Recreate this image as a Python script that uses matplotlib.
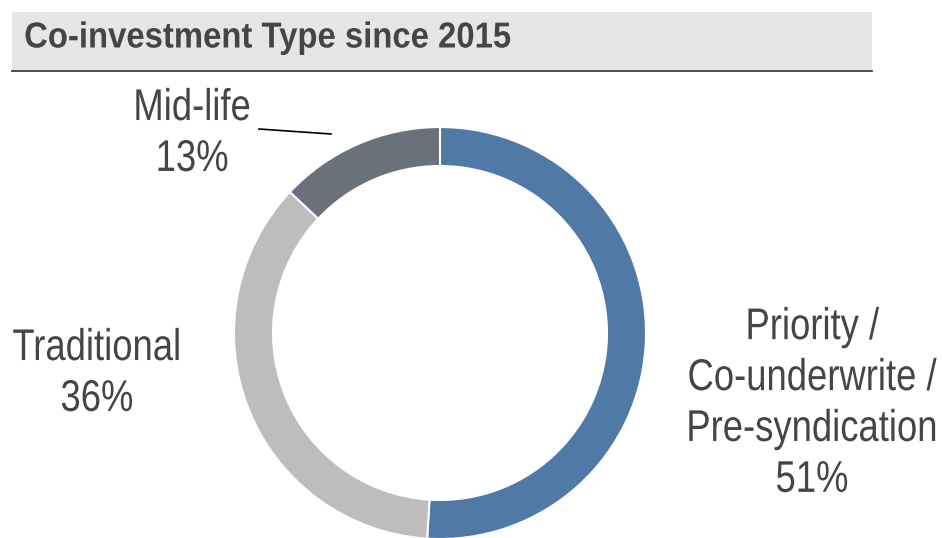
import matplotlib
matplotlib.use("Agg")
import matplotlib.pyplot as plt
from matplotlib.patches import Rectangle
from matplotlib.patheffects import AbstractPathEffect
from matplotlib.transforms import Affine2D

title = "Co-investment Type since 2015"
categories = ["Priority /\nCo-underwrite /\nPre-syndication", "Traditional", "Mid-life"]
values = [51, 36, 13]
colors = ["#5079a5", "#bdbdbd", "#6a717b"]

FONT = ["Liberation Sans", "DejaVu Sans"]
TXT = "#454545"


class Narrow(AbstractPathEffect):
    """Horizontally condense glyphs (Arial Narrow look) around a line anchor."""
    def __init__(self, sx=0.82, anchor="center"):
        super().__init__()
        self.sx = sx
        self.anchor = anchor

    def draw_path(self, renderer, gc, tpath, affine, rgbFace=None):
        ext = tpath.get_extents(affine)
        cx = ext.x0 if self.anchor == "left" else 0.5 * (ext.x0 + ext.x1)
        t = affine + Affine2D().translate(-cx, 0).scale(self.sx, 1).translate(cx, 0)
        renderer.draw_path(gc, tpath, t, rgbFace)


W, H = 942, 538
fig = plt.figure(figsize=(W / 100, H / 100), dpi=100)
ax = fig.add_axes([0, 0, 1, 1])


def Y(y):
    return H - y


# donut
ax.pie(values, colors=colors, startangle=90, counterclock=False,
       center=(440, Y(333)), radius=206, frame=True,
       wedgeprops=dict(width=39, edgecolor="white", linewidth=1.5))
ax.set_xlim(0, W)
ax.set_ylim(0, H)
ax.set_aspect("equal")
ax.axis("off")

# title bar
ax.add_patch(Rectangle((12, Y(71)), 860, 59, facecolor="#e6e6e6", edgecolor="none", zorder=0))
ax.plot([12, 872], [Y(71), Y(71)], color="#404040", lw=1.3, zorder=1)
ax.text(24, Y(38), title, fontsize=26, fontweight="bold", color=TXT, family=FONT,
        ha="left", va="center", path_effects=[Narrow(0.91, "left")])

# labels
lab = [f"{c}\n{v}%" for c, v in zip(categories, values)]
kw = dict(fontsize=32, color=TXT, family=FONT, ha="center", va="center",
          linespacing=1.31, path_effects=[Narrow(0.82, "center")])
ax.text(812, Y(404), lab[0], **kw)
ax.text(97, Y(374), lab[1], **kw)
ax.text(192, Y(134), lab[2], **kw)
ax.plot([259, 331], [Y(129), Y(134)], color="black", lw=1.2)

fig.savefig("out.png", dpi=100)
